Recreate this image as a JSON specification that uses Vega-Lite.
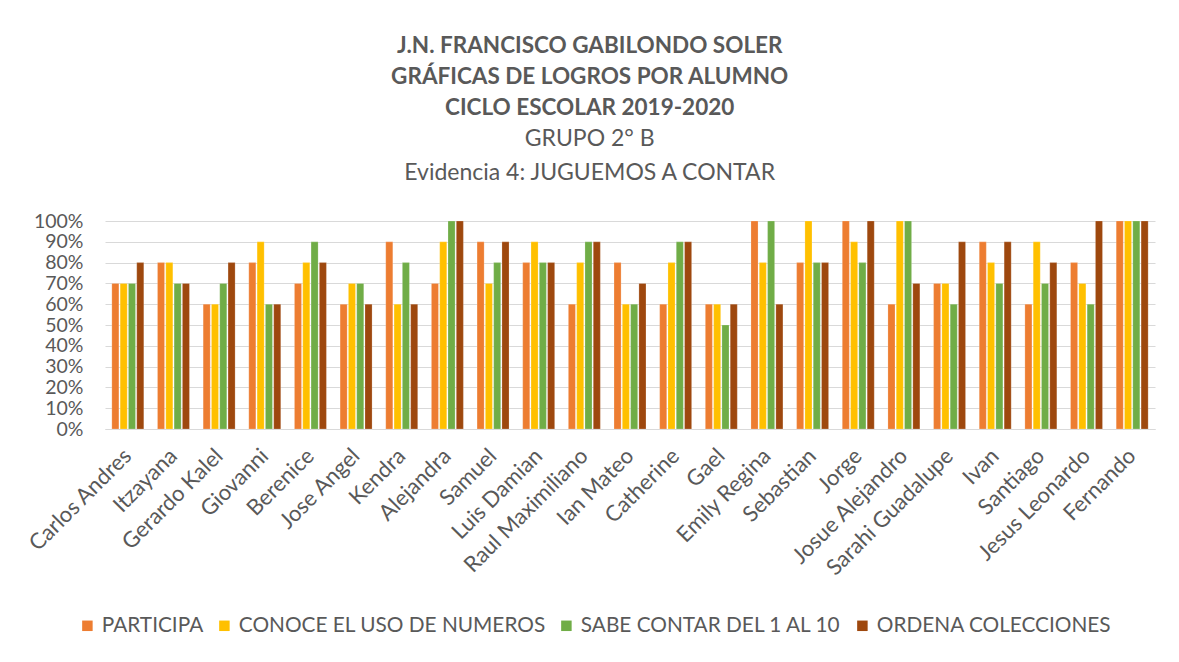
{
  "$schema": "https://vega.github.io/schema/vega-lite/v6.json",
  "width": 1050,
  "height": 208,
  "autosize": {"type": "none"},
  "padding": {"left": 105, "top": 221, "right": 24, "bottom": 233},
  "background": "white",
  "config": {
    "font": "Lato",
    "view": {"stroke": null},
    "axis": {"labelColor": "#595959", "labelFont": "Lato"}
  },
  "title": {
    "text": ["J.N. FRANCISCO GABILONDO SOLER", "GRÁFICAS DE LOGROS POR ALUMNO", "CICLO ESCOLAR 2019-2020"],
    "subtitle": ["GRUPO 2° B", "Evidencia 4: JUGUEMOS A CONTAR"],
    "anchor": "middle",
    "frame": "bounds",
    "font": "Lato",
    "fontSize": 22.5,
    "fontWeight": "bold",
    "color": "#595959",
    "lineHeight": 31,
    "subtitleFont": "Lato",
    "subtitleFontSize": 23,
    "subtitleColor": "#595959",
    "subtitleLineHeight": 34,
    "subtitlePadding": 9,
    "offset": 26
  },
  "data": {
    "values": [
      {"alumno": "Carlos Andres", "criterio": "PARTICIPA", "valor": 0.7},
      {"alumno": "Carlos Andres", "criterio": "CONOCE EL USO DE NUMEROS", "valor": 0.7},
      {"alumno": "Carlos Andres", "criterio": "SABE CONTAR DEL 1 AL 10", "valor": 0.7},
      {"alumno": "Carlos Andres", "criterio": "ORDENA COLECCIONES", "valor": 0.8},
      {"alumno": "Itzayana", "criterio": "PARTICIPA", "valor": 0.8},
      {"alumno": "Itzayana", "criterio": "CONOCE EL USO DE NUMEROS", "valor": 0.8},
      {"alumno": "Itzayana", "criterio": "SABE CONTAR DEL 1 AL 10", "valor": 0.7},
      {"alumno": "Itzayana", "criterio": "ORDENA COLECCIONES", "valor": 0.7},
      {"alumno": "Gerardo Kalel", "criterio": "PARTICIPA", "valor": 0.6},
      {"alumno": "Gerardo Kalel", "criterio": "CONOCE EL USO DE NUMEROS", "valor": 0.6},
      {"alumno": "Gerardo Kalel", "criterio": "SABE CONTAR DEL 1 AL 10", "valor": 0.7},
      {"alumno": "Gerardo Kalel", "criterio": "ORDENA COLECCIONES", "valor": 0.8},
      {"alumno": "Giovanni", "criterio": "PARTICIPA", "valor": 0.8},
      {"alumno": "Giovanni", "criterio": "CONOCE EL USO DE NUMEROS", "valor": 0.9},
      {"alumno": "Giovanni", "criterio": "SABE CONTAR DEL 1 AL 10", "valor": 0.6},
      {"alumno": "Giovanni", "criterio": "ORDENA COLECCIONES", "valor": 0.6},
      {"alumno": "Berenice", "criterio": "PARTICIPA", "valor": 0.7},
      {"alumno": "Berenice", "criterio": "CONOCE EL USO DE NUMEROS", "valor": 0.8},
      {"alumno": "Berenice", "criterio": "SABE CONTAR DEL 1 AL 10", "valor": 0.9},
      {"alumno": "Berenice", "criterio": "ORDENA COLECCIONES", "valor": 0.8},
      {"alumno": "Jose Angel", "criterio": "PARTICIPA", "valor": 0.6},
      {"alumno": "Jose Angel", "criterio": "CONOCE EL USO DE NUMEROS", "valor": 0.7},
      {"alumno": "Jose Angel", "criterio": "SABE CONTAR DEL 1 AL 10", "valor": 0.7},
      {"alumno": "Jose Angel", "criterio": "ORDENA COLECCIONES", "valor": 0.6},
      {"alumno": "Kendra", "criterio": "PARTICIPA", "valor": 0.9},
      {"alumno": "Kendra", "criterio": "CONOCE EL USO DE NUMEROS", "valor": 0.6},
      {"alumno": "Kendra", "criterio": "SABE CONTAR DEL 1 AL 10", "valor": 0.8},
      {"alumno": "Kendra", "criterio": "ORDENA COLECCIONES", "valor": 0.6},
      {"alumno": "Alejandra", "criterio": "PARTICIPA", "valor": 0.7},
      {"alumno": "Alejandra", "criterio": "CONOCE EL USO DE NUMEROS", "valor": 0.9},
      {"alumno": "Alejandra", "criterio": "SABE CONTAR DEL 1 AL 10", "valor": 1.0},
      {"alumno": "Alejandra", "criterio": "ORDENA COLECCIONES", "valor": 1.0},
      {"alumno": "Samuel", "criterio": "PARTICIPA", "valor": 0.9},
      {"alumno": "Samuel", "criterio": "CONOCE EL USO DE NUMEROS", "valor": 0.7},
      {"alumno": "Samuel", "criterio": "SABE CONTAR DEL 1 AL 10", "valor": 0.8},
      {"alumno": "Samuel", "criterio": "ORDENA COLECCIONES", "valor": 0.9},
      {"alumno": "Luis Damian", "criterio": "PARTICIPA", "valor": 0.8},
      {"alumno": "Luis Damian", "criterio": "CONOCE EL USO DE NUMEROS", "valor": 0.9},
      {"alumno": "Luis Damian", "criterio": "SABE CONTAR DEL 1 AL 10", "valor": 0.8},
      {"alumno": "Luis Damian", "criterio": "ORDENA COLECCIONES", "valor": 0.8},
      {"alumno": "Raul Maximiliano", "criterio": "PARTICIPA", "valor": 0.6},
      {"alumno": "Raul Maximiliano", "criterio": "CONOCE EL USO DE NUMEROS", "valor": 0.8},
      {"alumno": "Raul Maximiliano", "criterio": "SABE CONTAR DEL 1 AL 10", "valor": 0.9},
      {"alumno": "Raul Maximiliano", "criterio": "ORDENA COLECCIONES", "valor": 0.9},
      {"alumno": "Ian Mateo", "criterio": "PARTICIPA", "valor": 0.8},
      {"alumno": "Ian Mateo", "criterio": "CONOCE EL USO DE NUMEROS", "valor": 0.6},
      {"alumno": "Ian Mateo", "criterio": "SABE CONTAR DEL 1 AL 10", "valor": 0.6},
      {"alumno": "Ian Mateo", "criterio": "ORDENA COLECCIONES", "valor": 0.7},
      {"alumno": "Catherine", "criterio": "PARTICIPA", "valor": 0.6},
      {"alumno": "Catherine", "criterio": "CONOCE EL USO DE NUMEROS", "valor": 0.8},
      {"alumno": "Catherine", "criterio": "SABE CONTAR DEL 1 AL 10", "valor": 0.9},
      {"alumno": "Catherine", "criterio": "ORDENA COLECCIONES", "valor": 0.9},
      {"alumno": "Gael", "criterio": "PARTICIPA", "valor": 0.6},
      {"alumno": "Gael", "criterio": "CONOCE EL USO DE NUMEROS", "valor": 0.6},
      {"alumno": "Gael", "criterio": "SABE CONTAR DEL 1 AL 10", "valor": 0.5},
      {"alumno": "Gael", "criterio": "ORDENA COLECCIONES", "valor": 0.6},
      {"alumno": "Emily Regina", "criterio": "PARTICIPA", "valor": 1.0},
      {"alumno": "Emily Regina", "criterio": "CONOCE EL USO DE NUMEROS", "valor": 0.8},
      {"alumno": "Emily Regina", "criterio": "SABE CONTAR DEL 1 AL 10", "valor": 1.0},
      {"alumno": "Emily Regina", "criterio": "ORDENA COLECCIONES", "valor": 0.6},
      {"alumno": "Sebastian", "criterio": "PARTICIPA", "valor": 0.8},
      {"alumno": "Sebastian", "criterio": "CONOCE EL USO DE NUMEROS", "valor": 1.0},
      {"alumno": "Sebastian", "criterio": "SABE CONTAR DEL 1 AL 10", "valor": 0.8},
      {"alumno": "Sebastian", "criterio": "ORDENA COLECCIONES", "valor": 0.8},
      {"alumno": "Jorge", "criterio": "PARTICIPA", "valor": 1.0},
      {"alumno": "Jorge", "criterio": "CONOCE EL USO DE NUMEROS", "valor": 0.9},
      {"alumno": "Jorge", "criterio": "SABE CONTAR DEL 1 AL 10", "valor": 0.8},
      {"alumno": "Jorge", "criterio": "ORDENA COLECCIONES", "valor": 1.0},
      {"alumno": "Josue Alejandro", "criterio": "PARTICIPA", "valor": 0.6},
      {"alumno": "Josue Alejandro", "criterio": "CONOCE EL USO DE NUMEROS", "valor": 1.0},
      {"alumno": "Josue Alejandro", "criterio": "SABE CONTAR DEL 1 AL 10", "valor": 1.0},
      {"alumno": "Josue Alejandro", "criterio": "ORDENA COLECCIONES", "valor": 0.7},
      {"alumno": "Sarahi Guadalupe", "criterio": "PARTICIPA", "valor": 0.7},
      {"alumno": "Sarahi Guadalupe", "criterio": "CONOCE EL USO DE NUMEROS", "valor": 0.7},
      {"alumno": "Sarahi Guadalupe", "criterio": "SABE CONTAR DEL 1 AL 10", "valor": 0.6},
      {"alumno": "Sarahi Guadalupe", "criterio": "ORDENA COLECCIONES", "valor": 0.9},
      {"alumno": "Ivan", "criterio": "PARTICIPA", "valor": 0.9},
      {"alumno": "Ivan", "criterio": "CONOCE EL USO DE NUMEROS", "valor": 0.8},
      {"alumno": "Ivan", "criterio": "SABE CONTAR DEL 1 AL 10", "valor": 0.7},
      {"alumno": "Ivan", "criterio": "ORDENA COLECCIONES", "valor": 0.9},
      {"alumno": "Santiago", "criterio": "PARTICIPA", "valor": 0.6},
      {"alumno": "Santiago", "criterio": "CONOCE EL USO DE NUMEROS", "valor": 0.9},
      {"alumno": "Santiago", "criterio": "SABE CONTAR DEL 1 AL 10", "valor": 0.7},
      {"alumno": "Santiago", "criterio": "ORDENA COLECCIONES", "valor": 0.8},
      {"alumno": "Jesus Leonardo", "criterio": "PARTICIPA", "valor": 0.8},
      {"alumno": "Jesus Leonardo", "criterio": "CONOCE EL USO DE NUMEROS", "valor": 0.7},
      {"alumno": "Jesus Leonardo", "criterio": "SABE CONTAR DEL 1 AL 10", "valor": 0.6},
      {"alumno": "Jesus Leonardo", "criterio": "ORDENA COLECCIONES", "valor": 1.0},
      {"alumno": "Fernando", "criterio": "PARTICIPA", "valor": 1.0},
      {"alumno": "Fernando", "criterio": "CONOCE EL USO DE NUMEROS", "valor": 1.0},
      {"alumno": "Fernando", "criterio": "SABE CONTAR DEL 1 AL 10", "valor": 1.0},
      {"alumno": "Fernando", "criterio": "ORDENA COLECCIONES", "valor": 1.0}
    ]
  },
  "mark": {"type": "bar", "stroke": "white", "strokeOpacity": 0.4, "strokeWidth": 0.5},
  "encoding": {
    "x": {
      "field": "alumno",
      "type": "nominal",
      "sort": null,
      "scale": {"paddingInner": 0.3, "paddingOuter": 0.15},
      "axis": {
        "title": null,
        "labelAngle": -45,
        "labelAlign": "right",
        "labelBaseline": "middle",
        "labelFontSize": 22,
        "labelPadding": 23,
        "labelOverlap": false,
        "ticks": false,
        "domainColor": "#d9d9d9",
        "domainWidth": 1,
        "grid": false
      }
    },
    "xOffset": {
      "field": "criterio",
      "type": "nominal",
      "sort": ["PARTICIPA", "CONOCE EL USO DE NUMEROS", "SABE CONTAR DEL 1 AL 10", "ORDENA COLECCIONES"],
      "scale": {"paddingInner": 0.15}
    },
    "y": {
      "field": "valor",
      "type": "quantitative",
      "scale": {"domain": [0, 1], "nice": false},
      "axis": {
        "title": null,
        "format": ".0%",
        "values": [0, 0.1, 0.2, 0.3, 0.4, 0.5, 0.6, 0.7, 0.8, 0.9, 1.0],
        "labelFontSize": 19.5,
        "labelPadding": 22,
        "labelOverlap": false,
        "ticks": false,
        "domain": false,
        "gridColor": "#d9d9d9",
        "gridWidth": 1
      }
    },
    "color": {
      "field": "criterio",
      "type": "nominal",
      "sort": ["PARTICIPA", "CONOCE EL USO DE NUMEROS", "SABE CONTAR DEL 1 AL 10", "ORDENA COLECCIONES"],
      "scale": {
        "domain": ["PARTICIPA", "CONOCE EL USO DE NUMEROS", "SABE CONTAR DEL 1 AL 10", "ORDENA COLECCIONES"],
        "range": ["#ED7D31", "#FFC000", "#70AD47", "#9E480E"]
      },
      "legend": {
        "title": null,
        "orient": "none",
        "direction": "horizontal",
        "legendX": -28,
        "legendY": 394,
        "symbolType": "square",
        "symbolSize": 110,
        "symbolStrokeWidth": 0,
        "labelFontSize": 20.8,
        "labelColor": "#595959",
        "labelFont": "Lato",
        "labelOffset": 4,
        "columnPadding": 10,
        "labelLimit": 400
      }
    }
  }
}
